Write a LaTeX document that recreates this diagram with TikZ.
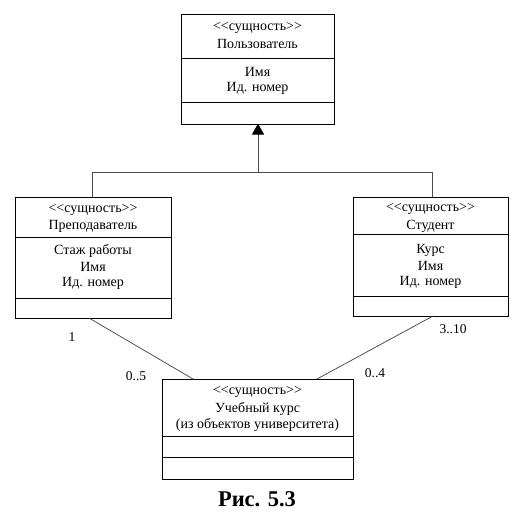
\documentclass[tikz,border=0pt]{standalone}
\usepackage{fontspec}
\setmainfont{Liberation Serif}
\usetikzlibrary{arrows.meta}
\newcommand\stereo{\char"3C\relax\char"3C\relax сущность\char"3E\relax\char"3E\relax}
\begin{document}
\begin{tikzpicture}[x=1pt,y=-1pt,
  box/.style={draw, line width=0.8pt, inner sep=0pt, outer sep=0pt},
  txt/.style={inner sep=0pt, font=\fontsize{14}{16}\selectfont},
  lbl/.style={inner sep=0pt, font=\fontsize{13.5}{16}\selectfont},
  div/.style={line width=0.8pt},
  link/.style={line width=0.7pt, black!75},
  inh/.style={line width=0.9pt, black!70}]
\fill[white] (0,0) rectangle (528,519);
\useasboundingbox (0,0) rectangle (528,519);
% top box
\node[box, minimum width=153pt, minimum height=110pt] (user) at (257.5,69) {};
\draw[div] (181,58) -- (334,58);
\draw[div] (181,102) -- (334,102);
\node[txt] (u1) at (257.5,28) {\stereo};
\node[txt] (u2) at (257.5,44) {Пользователь};
\node[txt] (u3) at (257.5,72) {Имя};
\node[txt] (u4) at (257.5,88) {Ид. номер};
% left box
\node[box, minimum width=156pt, minimum height=121pt] (teach) at (93,257.5) {};
\draw[div] (15,237) -- (171,237);
\draw[div] (15,298) -- (171,298);
\node[txt] (t1) at (93,210) {\stereo};
\node[txt] (t2) at (93,226) {Преподаватель};
\node[txt] (t3) at (93,251) {Стаж работы};
\node[txt] (t4) at (93,267) {Имя};
\node[txt] (t5) at (93,283) {Ид. номер};
% right box
\node[box, minimum width=155pt, minimum height=119pt] (stud) at (430.5,256.5) {};
\draw[div] (353,234) -- (508,234);
\draw[div] (353,296) -- (508,296);
\node[txt] (s1) at (430.5,209) {\stereo};
\node[txt] (s2) at (430.5,226) {Студент};
\node[txt] (s3) at (430.5,250) {Курс};
\node[txt] (s4) at (430.5,266) {Имя};
\node[txt] (s5) at (430.5,282) {Ид. номер};
% bottom box
\node[box, minimum width=191pt, minimum height=100pt] (course) at (257.5,429) {};
\draw[div] (162,436) -- (353,436);
\draw[div] (162,457) -- (353,457);
\node[txt] (c1) at (257.5,392) {\stereo};
\node[txt] (c2) at (257.5,409) {Учебный курс};
\node[txt] (c3) at (257.5,425) {(из объектов университета)};
% inheritance
\coordinate (j) at (258,172);
\coordinate (jl) at (92,172);
\coordinate (jr) at (432,172);
\draw[inh] (jl) -- (jr);
\draw[inh] (jl) -- (teach.north -| jl);
\draw[inh] (jr) -- (stud.north -| jr);
\draw[inh, -{Triangle[length=11pt,width=12pt,color=black,fill=black]}, shorten >=-0.4pt] (j) -- (user.south -| j);
% associations
\coordinate (a1) at (89,318);
\coordinate (a2) at (193,379);
\coordinate (b1) at (433,316);
\coordinate (b2) at (317,379);
\draw[link] (a1) -- (a2);
\draw[link] (b1) -- (b2);
\node[lbl] (m1) at (72,337) {1};
\node[lbl] (m2) at (136,376) {0..5};
\node[lbl] (m3) at (375,373) {0..4};
\node[lbl] (m4) at (453,329) {3..10};
% caption
\node[inner sep=0pt, font=\fontsize{22.5}{26}\selectfont\bfseries] (cap) at (257,499) {Рис. 5.3};
\end{tikzpicture}
\end{document}
